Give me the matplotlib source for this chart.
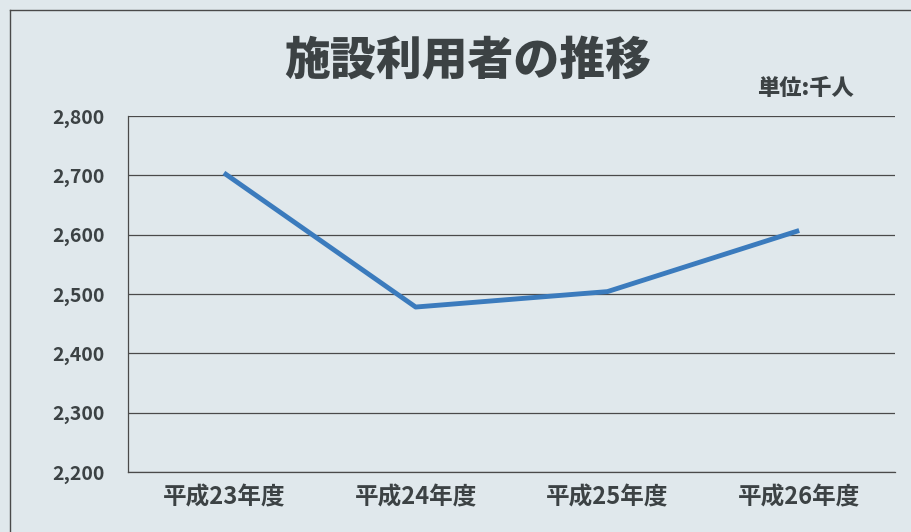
import matplotlib.pyplot as plt
from matplotlib.lines import Line2D

plt.rcParams['font.family'] = ['Noto Sans CJK JP', 'DejaVu Sans']

# data
years = ['平成23年度', '平成24年度', '平成25年度', '平成26年度']
users = [2704, 2478, 2504, 2607]
y_ticks = [2200, 2300, 2400, 2500, 2600, 2700, 2800]

bg = '#e0e8ec'
text_col = '#3c4244'

fig = plt.figure(figsize=(9.12, 5.32), dpi=100, facecolor=bg)
ax = fig.add_axes([0.1404, 0.1128, 0.8410, 0.6692])
ax.set_facecolor(bg)

x = range(len(years))
ax.plot(x, users, color='#3b7bbd', linewidth=3.5, solid_capstyle='butt', zorder=3)

ax.set_xlim(-0.5, len(years) - 0.5)
ax.set_ylim(2200, 2800)
ax.set_yticks(y_ticks)
ax.set_yticklabels([f'{v:,}' for v in y_ticks])
ax.set_xticks(list(x))
ax.set_xticklabels(years)

ax.grid(axis='y', color='#4a4a4a', linewidth=0.9)
ax.set_axisbelow(True)
for s in ['top', 'right']:
    ax.spines[s].set_visible(False)
for s in ['left', 'bottom']:
    ax.spines[s].set_color('#4a4a4a')
    ax.spines[s].set_linewidth(0.9)

ax.tick_params(axis='y', length=0, pad=17, labelsize=14, labelcolor=text_col)
ax.tick_params(axis='x', length=0, pad=10, labelsize=17, labelcolor=text_col)
for lbl in ax.get_xticklabels() + ax.get_yticklabels():
    lbl.set_fontweight('bold')

fig.text(0.513, 0.883, '施設利用者の推移', ha='center', va='center',
         fontsize=33, fontweight='heavy', color=text_col)
fig.text(0.883, 0.834, '単位:千人', ha='center', va='center',
         fontsize=16, fontweight='heavy', color=text_col)

# outer frame of the scanned chart
fig.add_artist(Line2D([0.011, 0.011], [0.0, 0.981], transform=fig.transFigure,
                      color='#4a4a4a', linewidth=1))
fig.add_artist(Line2D([0.011, 1.0], [0.981, 0.981], transform=fig.transFigure,
                      color='#4a4a4a', linewidth=1))

fig.savefig('out.png', dpi=100, facecolor=bg)
